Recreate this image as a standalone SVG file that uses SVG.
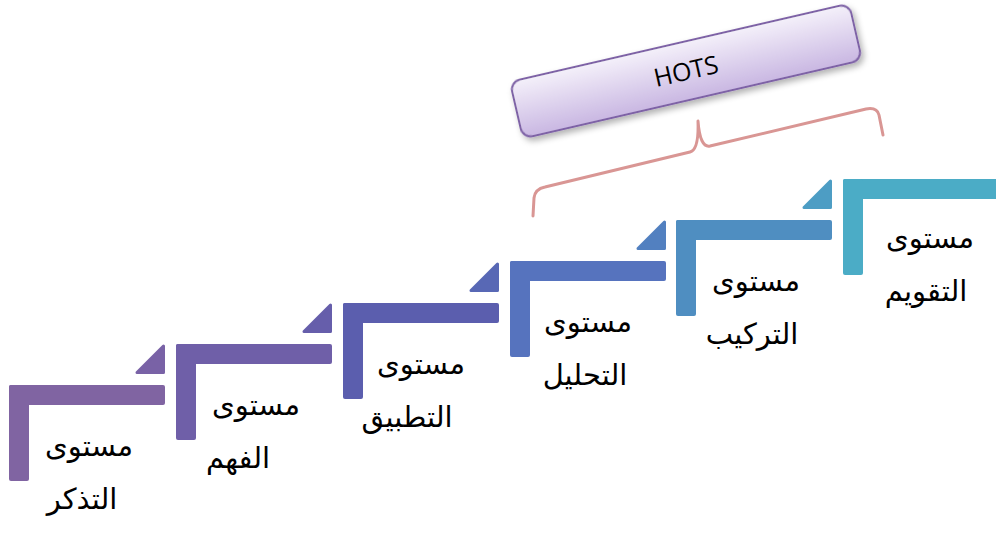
<svg xmlns="http://www.w3.org/2000/svg" width="996" height="535" viewBox="0 0 996 535">
<defs>
<linearGradient id="hotsFill" x1="0" y1="0" x2="0" y2="1">
<stop offset="0" stop-color="#F4F0FA"/>
<stop offset="1" stop-color="#C9B7E2"/>
</linearGradient>
<filter id="shadow" x="-10%" y="-30%" width="120%" height="170%">
<feDropShadow dx="2" dy="4" stdDeviation="3" flood-color="#000" flood-opacity="0.3"/>
</filter>
</defs>
<style>
.lbl{font-family:"DejaVu Sans","Noto Sans",sans-serif;font-size:29px;fill:#000;text-anchor:middle}
.tri{stroke-width:3;stroke-linejoin:round}
.hots{font-family:"Open Sans","Liberation Sans",sans-serif;font-size:25px;fill:#000;text-anchor:middle}
</style>
<rect width="996" height="535" fill="#fff"/>

<g id="hots">
<g transform="translate(686,71) rotate(-13)">
<rect x="-174" y="-29" width="348" height="58" rx="10" fill="url(#hotsFill)" stroke="#7E62A6" stroke-width="2" filter="url(#shadow)"/>
<text class="hots" x="0" y="9">HOTS</text>
</g>
</g>

<g id="connectors">
<path d="M533,216 L534,198 Q535,189 545,187 L690,152 Q699,150 698,121 Q700,148 710,146 L866,109 Q877,107 879,115 L883,135" fill="none" stroke="#D99694" stroke-width="3" stroke-linecap="round" stroke-linejoin="round"/>
</g>

<g id="step1" transform="translate(9,385)">
<rect x="0" y="0" width="156" height="20" rx="2" fill="#8064A2"/>
<rect x="0" y="0" width="20" height="96" rx="2" fill="#8064A2"/>
<polygon class="tri" points="128,-12.5 154.5,-39 154.5,-12.5" fill="#7962A6" stroke="#7962A6"/>
<text class="lbl" x="80" y="71">مستوى</text>
<text class="lbl" x="73" y="124">التذكر</text>
</g>

<g id="step2" transform="translate(176,344)">
<rect x="0" y="0" width="156" height="20" rx="2" fill="#6F5FA8"/>
<rect x="0" y="0" width="20" height="96" rx="2" fill="#6F5FA8"/>
<polygon class="tri" points="128,-12.5 154.5,-39 154.5,-12.5" fill="#665EAB" stroke="#665EAB"/>
<text class="lbl" x="80" y="71">مستوى</text>
<text class="lbl" x="62" y="124">الفهم</text>
</g>

<g id="step3" transform="translate(343,303)">
<rect x="0" y="0" width="156" height="20" rx="2" fill="#5B5EAE"/>
<rect x="0" y="0" width="20" height="96" rx="2" fill="#5B5EAE"/>
<polygon class="tri" points="128,-12.5 154.5,-39 154.5,-12.5" fill="#5868B5" stroke="#5868B5"/>
<text class="lbl" x="78" y="71">مستوى</text>
<text class="lbl" x="64" y="124">التطبيق</text>
</g>

<g id="step4" transform="translate(510,261)">
<rect x="0" y="0" width="156" height="20" rx="2" fill="#5673BE"/>
<rect x="0" y="0" width="20" height="96" rx="2" fill="#5673BE"/>
<polygon class="tri" points="128,-12.5 154.5,-39 154.5,-12.5" fill="#5280C0" stroke="#5280C0"/>
<text class="lbl" x="78" y="71">مستوى</text>
<text class="lbl" x="75" y="124">التحليل</text>
</g>

<g id="step5" transform="translate(676,220)">
<rect x="0" y="0" width="156" height="20" rx="2" fill="#4F8EC1"/>
<rect x="0" y="0" width="20" height="96" rx="2" fill="#4F8EC1"/>
<polygon class="tri" points="128,-12.5 154.5,-39 154.5,-12.5" fill="#4D9DC4" stroke="#4D9DC4"/>
<text class="lbl" x="80" y="71">مستوى</text>
<text class="lbl" x="76" y="124">التركيب</text>
</g>

<g id="step6" transform="translate(843,179)">
<rect x="0" y="0" width="160" height="20" rx="2" fill="#4BACC6"/>
<rect x="0" y="0" width="20" height="96" rx="2" fill="#4BACC6"/>
<text class="lbl" x="87" y="69">مستوى</text>
<text class="lbl" x="83" y="122">التقويم</text>
</g>
</svg>
